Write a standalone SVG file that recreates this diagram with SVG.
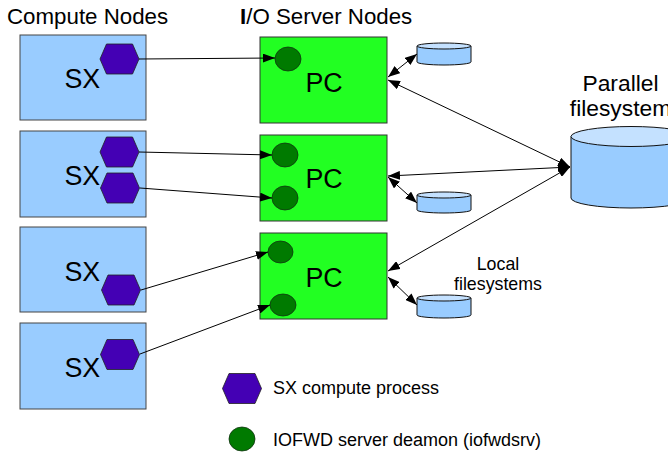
<svg xmlns="http://www.w3.org/2000/svg" width="668" height="453" viewBox="0 0 668 453">
<style>
.txt{font-family:"Liberation Sans",Arial,sans-serif;fill:#000}
.cn{fill:#99ccff;stroke:#444;stroke-width:1}
.sv{fill:#22ff22;stroke:#333;stroke-width:1}
.hex{fill:#4400b4;stroke:#222;stroke-width:0.8}
.dm{fill:#007a00;stroke:#113311;stroke-width:0.8}
.cyl{fill:#99ccff;stroke:#111;stroke-width:1}
.cyltop{fill:#c4e1ff;stroke:#111;stroke-width:1}
.ln{stroke:#000;stroke-width:1;fill:none}
</style>
<defs>
<marker id="ah" viewBox="0 0 12 9" refX="12" refY="4.5" markerWidth="12" markerHeight="9" markerUnits="userSpaceOnUse" orient="auto-start-reverse">
<path d="M0,0 L12,4.5 L0,9 Z" fill="#000"/>
</marker>
<polygon id="hx" points="-19.5,0 -13,-15 13,-15 19.5,0 13,15 -13,15"/>
</defs>
<rect width="668" height="453" fill="#fff"/>

<text class="txt" x="7" y="24" font-size="22.3">Compute Nodes</text>
<text class="txt" x="240" y="24" font-size="22.3"><tspan font-weight="bold">I</tspan>/O Server Nodes</text>

<g id="compute1">
<rect class="cn" x="20" y="35" width="126" height="85"/>
<text class="txt" x="64.5" y="88" font-size="26.8">SX</text>
<use href="#hx" class="hex" x="119.5" y="59"/>
</g>
<g id="compute2">
<rect class="cn" x="20" y="131" width="126" height="86"/>
<text class="txt" x="64.5" y="185" font-size="26.8">SX</text>
<use href="#hx" class="hex" x="119.5" y="152"/>
<use href="#hx" class="hex" x="120" y="188"/>
</g>
<g id="compute3">
<rect class="cn" x="20" y="227" width="126" height="85"/>
<text class="txt" x="64.5" y="281" font-size="26.8">SX</text>
<use href="#hx" class="hex" x="121" y="290"/>
</g>
<g id="compute4">
<rect class="cn" x="20" y="323" width="126" height="86"/>
<text class="txt" x="64.5" y="377" font-size="26.8">SX</text>
<use href="#hx" class="hex" x="120" y="354.5"/>
</g>

<g id="server1">
<rect class="sv" x="260" y="37" width="127" height="86"/>
<ellipse class="dm" cx="288" cy="59" rx="13" ry="12"/>
<text class="txt" x="305.5" y="92" font-size="26.8">PC</text>
</g>
<g id="server2">
<rect class="sv" x="260" y="135" width="127" height="86"/>
<ellipse class="dm" cx="285" cy="155" rx="13" ry="12"/>
<ellipse class="dm" cx="285" cy="198" rx="13" ry="12"/>
<text class="txt" x="305.5" y="188" font-size="26.8">PC</text>
</g>
<g id="server3">
<rect class="sv" x="260" y="233" width="127" height="86"/>
<ellipse class="dm" cx="280.5" cy="252" rx="12.5" ry="11"/>
<ellipse class="dm" cx="283" cy="305" rx="13" ry="11"/>
<text class="txt" x="305.5" y="287" font-size="26.8">PC</text>
</g>

<g id="localfs1">
<path class="cyl" d="M417,46 L417,62 A27,3 0 0 0 471,62 L471,46 Z"/>
<ellipse class="cyltop" cx="444" cy="46" rx="27" ry="3"/>
</g>
<g id="localfs2">
<path class="cyl" d="M417,195 L417,210 A27,3 0 0 0 471,210 L471,195 Z"/>
<ellipse class="cyltop" cx="444" cy="195" rx="27" ry="3"/>
</g>
<g id="localfs3">
<path class="cyl" d="M417,298 L417,315 A27,3 0 0 0 471,315 L471,298 Z"/>
<ellipse class="cyltop" cx="444" cy="298" rx="27" ry="3"/>
</g>
<text class="txt" x="498" y="270" font-size="17.8" text-anchor="middle">Local</text>
<text class="txt" x="498" y="290" font-size="17.8" text-anchor="middle">filesystems</text>

<g id="pfs">
<text class="txt" x="620.5" y="91" font-size="22.8" text-anchor="middle">Parallel</text>
<text class="txt" x="620.5" y="116" font-size="22.8" text-anchor="middle">filesystem</text>
<path class="cyl" d="M571,136.5 L571,198 A60,10 0 0 0 691,198 L691,136.5 Z"/>
<ellipse class="cyltop" cx="631" cy="136.5" rx="60" ry="10"/>
</g>

<g id="connectors">
<line class="ln" x1="139" y1="59" x2="275" y2="58" marker-end="url(#ah)"/>
<line class="ln" x1="139" y1="152" x2="272" y2="155" marker-end="url(#ah)"/>
<line class="ln" x1="140" y1="188" x2="272" y2="198" marker-end="url(#ah)"/>
<line class="ln" x1="141" y1="290" x2="268" y2="252" marker-end="url(#ah)"/>
<line class="ln" x1="140" y1="354" x2="270" y2="305" marker-end="url(#ah)"/>
<line class="ln" x1="570" y1="167" x2="388" y2="80" marker-start="url(#ah)" marker-end="url(#ah)"/>
<line class="ln" x1="570" y1="167" x2="388" y2="176" marker-start="url(#ah)" marker-end="url(#ah)"/>
<line class="ln" x1="570" y1="167" x2="388" y2="271" marker-start="url(#ah)" marker-end="url(#ah)"/>
<line class="ln" x1="388" y1="77" x2="417" y2="54" marker-start="url(#ah)" marker-end="url(#ah)"/>
<line class="ln" x1="388" y1="177" x2="417" y2="203" marker-start="url(#ah)" marker-end="url(#ah)"/>
<line class="ln" x1="388" y1="277" x2="417" y2="305" marker-start="url(#ah)" marker-end="url(#ah)"/>
</g>

<g id="legend">
<use href="#hx" class="hex" x="242" y="388.5"/>
<text class="txt" x="273" y="394" font-size="18">SX compute process</text>
<ellipse class="dm" cx="242" cy="439" rx="13" ry="12"/>
<text class="txt" x="273" y="446" font-size="18">IOFWD server deamon (iofwdsrv)</text>
</g>
</svg>
